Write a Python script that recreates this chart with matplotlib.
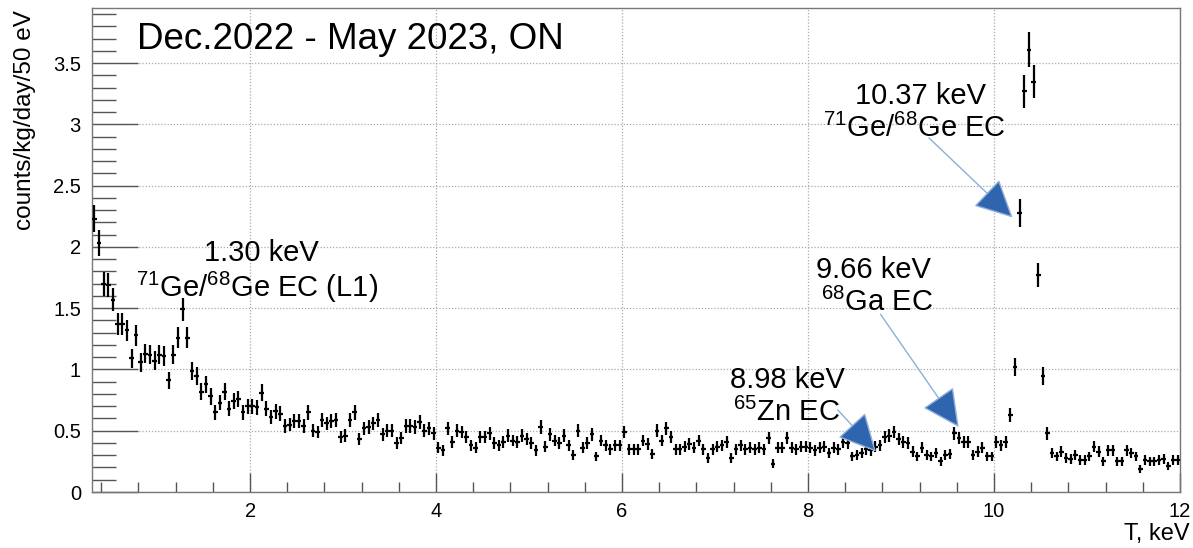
import numpy as np
import matplotlib
matplotlib.use("Agg")
import matplotlib.pyplot as plt
from matplotlib.ticker import MultipleLocator, FuncFormatter

plt.rcParams['font.family'] = ['Liberation Sans', 'DejaVu Sans']
plt.rcParams['mathtext.fontset'] = 'custom'
plt.rcParams['mathtext.rm'] = 'Liberation Sans'
plt.rcParams['mathtext.it'] = 'Liberation Sans'
plt.rcParams['mathtext.default'] = 'regular'

# ---- histogram binning (keV) ----
bin_low = 0.3
bin_width = 0.05

# ---- rates, counts/kg/day/50 eV, read per 50 eV bin ----
rate_0p3_2 = [2.23, 2.03, 1.70, 1.69, 1.57, 1.37, 1.37, 1.32, 1.09, 1.28,
              1.06, 1.13, 1.12, 1.07, 1.12, 1.11, 0.91, 1.12, 1.26, 1.49,
              1.26, 0.99, 0.95, 0.82, 0.88, 0.78, 0.65, 0.73, 0.82, 0.68,
              0.74, 0.76, 0.65, 0.70]
rate_2_4 = [0.70, 0.69, 0.81, 0.68, 0.61, 0.66, 0.64, 0.54, 0.55, 0.58,
            0.58, 0.54, 0.65, 0.50, 0.49, 0.59, 0.56, 0.58, 0.59, 0.45,
            0.46, 0.59, 0.65, 0.43, 0.52, 0.53, 0.56, 0.59, 0.47, 0.50,
            0.50, 0.40, 0.44, 0.54, 0.54, 0.53, 0.57, 0.50, 0.52, 0.48]
rate_4_6 = [0.36, 0.34, 0.52, 0.41, 0.50, 0.49, 0.45, 0.38, 0.36, 0.45,
            0.45, 0.48, 0.40, 0.38, 0.41, 0.46, 0.42, 0.41, 0.46, 0.43,
            0.40, 0.34, 0.53, 0.37, 0.47, 0.42, 0.40, 0.46, 0.38, 0.30,
            0.50, 0.36, 0.40, 0.47, 0.29, 0.42, 0.38, 0.35, 0.38, 0.38]
rate_6_8 = [0.49, 0.35, 0.35, 0.35, 0.42, 0.39, 0.31, 0.50, 0.42, 0.52,
            0.45, 0.35, 0.35, 0.37, 0.39, 0.36, 0.42, 0.35, 0.28, 0.35,
            0.37, 0.38, 0.41, 0.28, 0.35, 0.38, 0.35, 0.36, 0.35, 0.36,
            0.35, 0.44, 0.23, 0.36, 0.36, 0.44, 0.36, 0.35, 0.37, 0.37]
rate_8_10 = [0.36, 0.34, 0.36, 0.37, 0.32, 0.36, 0.35, 0.41, 0.40, 0.29,
             0.30, 0.32, 0.35, 0.34, 0.37, 0.38, 0.45, 0.46, 0.49, 0.43,
             0.41, 0.40, 0.33, 0.29, 0.36, 0.30, 0.29, 0.32, 0.25, 0.30,
             0.31, 0.48, 0.44, 0.41, 0.41, 0.30, 0.33, 0.36, 0.29, 0.29]
rate_10_12 = [0.41, 0.38, 0.41, 0.63, 1.02, 2.28, 3.27, 3.61, 3.35, 1.77,
              0.95, 0.48, 0.32, 0.29, 0.33, 0.28, 0.27, 0.30, 0.26, 0.26,
              0.29, 0.37, 0.33, 0.25, 0.34, 0.34, 0.25, 0.25, 0.34, 0.32,
              0.29, 0.19, 0.26, 0.25, 0.25, 0.26, 0.27, 0.21, 0.26, 0.26]

# statistical error bar half-length per unit sqrt(rate)
err_scale = 0.075

rate = np.array(rate_0p3_2 + rate_2_4 + rate_4_6 + rate_6_8 + rate_8_10 + rate_10_12)
centers = bin_low + bin_width * (np.arange(len(rate)) + 0.5)
yerr = err_scale * np.sqrt(rate)

# ---- annotations ----
ann_texts = [("1.30 keV", r"$^{71}$Ge/$^{68}$Ge EC (L1)"),
             ("10.37 keV", r"$^{71}$Ge/$^{68}$Ge EC"),
             ("9.66 keV", r"$^{68}$Ga EC"),
             ("8.98 keV", r"$^{65}$Zn EC")]
ann_text_pos = [(2.12, 1.95, 2.07, 1.67),
                (9.21, 3.23, 9.14, 2.97),
                (8.70, 1.81, 8.74, 1.55),
                (7.78, 0.91, 7.77, 0.65)]
arrows = [None,
          ((9.30, 2.89), (10.20, 2.24)),
          ((8.78, 1.45), (9.62, 0.53)),
          ((8.32, 0.67), (8.73, 0.33))]

fig = plt.figure(figsize=(11.93, 5.48), dpi=100)
ax = fig.add_axes([92/1193, 56/548, (1180-92)/1193, (492-8)/548])

ax.errorbar(centers, rate, yerr=yerr, xerr=bin_width/2, fmt='none',
            ecolor='black', elinewidth=1.6, capsize=0, zorder=3)

ax.set_xlim(0.3, 12)
ax.set_ylim(0, 3.95)

ax.xaxis.set_major_locator(MultipleLocator(2))
ax.xaxis.set_minor_locator(MultipleLocator(0.4))
ax.yaxis.set_major_locator(MultipleLocator(0.5))
ax.yaxis.set_minor_locator(MultipleLocator(0.1))
fmt = FuncFormatter(lambda v, p: f"{v:g}")
ax.xaxis.set_major_formatter(fmt)
ax.yaxis.set_major_formatter(fmt)

ax.tick_params(axis='both', which='both', direction='in', colors='#555555',
               labelcolor='black', labelsize=14.5, width=1)
ax.tick_params(axis='y', which='major', length=33, pad=8)
ax.tick_params(axis='y', which='minor', length=17)
ax.tick_params(axis='x', which='major', length=14, pad=7)
ax.tick_params(axis='x', which='minor', length=7)
ax.grid(True, which='major', color='#aaaaaa', linestyle=(0, (1, 1.5)), linewidth=0.9)
for s in ax.spines.values():
    s.set_color('#777777')
    s.set_linewidth(1)
ax.set_axisbelow(True)

ax.text(0.041, 0.935, "Dec.2022 - May 2023, ON", transform=ax.transAxes,
        fontsize=26.5, ha='left', va='center')

for (l1, l2), (x1, y1, x2, y2) in zip(ann_texts, ann_text_pos):
    ax.text(x1, y1, l1, fontsize=21, ha='center', va='center', zorder=5)
    ax.text(x2, y2, l2, fontsize=21, ha='center', va='center', zorder=5)

for arr in arrows:
    if arr is None:
        continue
    (xt, yt), (xh, yh) = arr
    ax.annotate("", xy=(xh, yh), xytext=(xt, yt),
                arrowprops=dict(arrowstyle="-|>,head_length=1.0,head_width=0.5",
                                mutation_scale=24, lw=1.0,
                                edgecolor='#8eaedb', facecolor='#2f64ae',
                                shrinkA=0, shrinkB=0), zorder=6)

fig.text(25/1193, 1 - 10/548, "counts/kg/day/50 eV", rotation=90,
         ha='center', va='top', fontsize=17.5)
fig.text(1190/1193, 1 - 540/548, "T, keV", ha='right', va='baseline', fontsize=17)

fig.savefig("out.png", dpi=100)
